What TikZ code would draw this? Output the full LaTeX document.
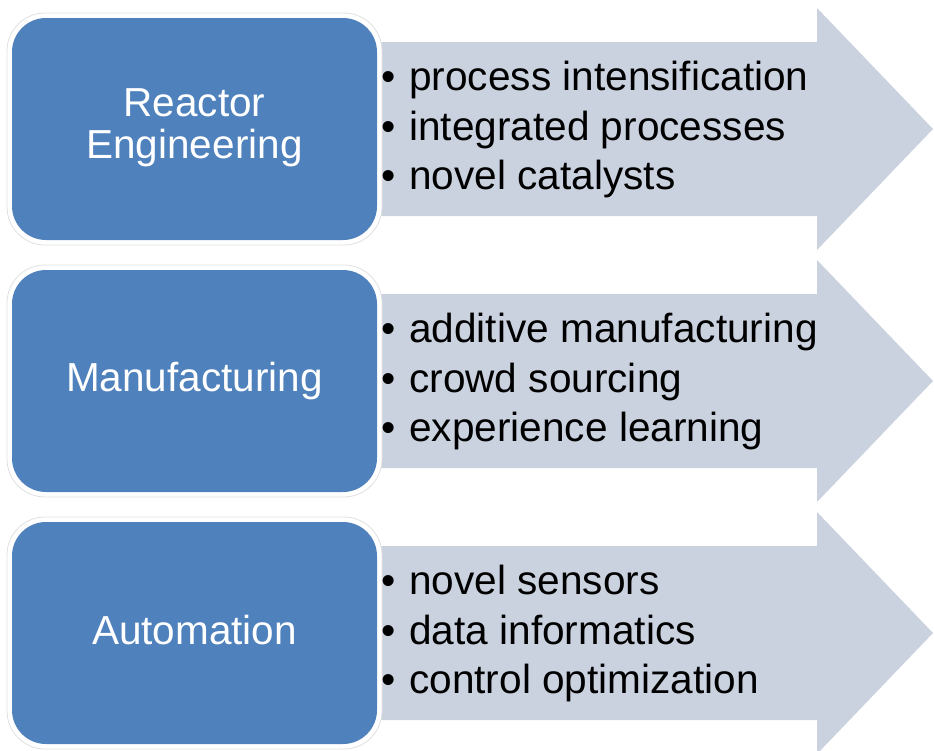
\documentclass[tikz,border=0pt]{standalone}
\usepackage{fontspec}
\setmainfont{Liberation Sans}
\definecolor{boxblue}{HTML}{4F81BD}
\definecolor{bandgray}{RGB}{202,210,223}
\begin{document}
\begin{tikzpicture}[x=1pt,y=-1pt,
  bluebox/.style={fill=boxblue, rounded corners=34pt},
  boxrim/.style={fill=white, draw=black!12, line width=0.8pt, rounded corners=38pt},
  band/.style={fill=bandgray},
  boxtext/.style={text=white, font=\fontsize{40.5}{42}\selectfont, align=center, inner sep=0pt},
  bullettext/.style={anchor=base west, font=\fontsize{40.6}{48}\selectfont, inner sep=0pt},
  bulletdot/.style={anchor=base, font=\fontsize{40.6}{48}\selectfont, inner sep=0pt}]
\useasboundingbox (0,0) rectangle (934,750);

% one row per topic: arrow band, framed blue box, three bullet points
\foreach \i/\r/\one/\two/\three in {
  1/0/{process intensification}/{integrated processes}/{novel catalysts},
  2/252/{additive manufacturing}/{crowd sourcing}/{experience learning},
  3/504/{novel sensors}/{data informatics}/{control optimization}}
{
  \path[band] (370,42+\r) -- (817,42+\r) -- (817,8+\r) -- (933,129+\r)
              -- (817,250+\r) -- (817,216+\r) -- (370,216+\r) -- cycle;
  \path[boxrim] (7,13+\r) rectangle (382,245+\r);
  \path[bluebox] (12,18+\r) rectangle (377,240+\r);
  \node[bulletdot]  (dot\i-1) at (389,90+\r) {•};
  \node[bullettext] (txt\i-1) at (409,90+\r)   {\one};
  \node[bulletdot]  (dot\i-2) at (389,140+\r) {•};
  \node[bullettext] (txt\i-2) at (409,140+\r)  {\two};
  \node[bulletdot]  (dot\i-3) at (389,189+\r) {•};
  \node[bullettext] (txt\i-3) at (409,189+\r)  {\three};
}

% box titles
\node[boxtext] (title1) at (194.5,128) {Reactor\\Engineering};
\node[boxtext, anchor=base] (title2) at (194.5,391) {Manufacturing};
\node[boxtext, anchor=base] (title3) at (194.5,644) {Automation};
\end{tikzpicture}
\end{document}
